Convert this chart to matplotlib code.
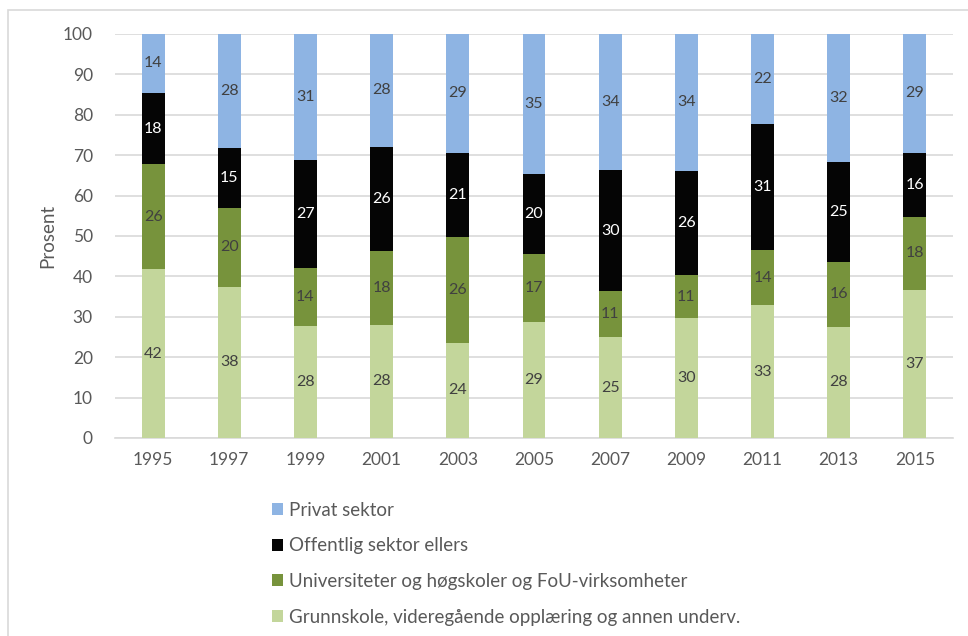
import matplotlib
matplotlib.use("Agg")
import matplotlib.pyplot as plt
from matplotlib.patches import Rectangle, Patch

plt.rcParams['font.family'] = ['Lato', 'DejaVu Sans']

years = ['1995', '1997', '1999', '2001', '2003', '2005', '2007', '2009', '2011', '2013', '2015']
grunnskole = [41.8, 37.5, 27.7, 28.0, 23.6, 28.7, 25.0, 29.6, 32.8, 27.5, 36.7]
universiteter = [25.9, 19.5, 14.4, 18.3, 26.1, 16.9, 11.3, 10.7, 13.7, 16.1, 18.0]
offentlig = [17.8, 14.8, 26.6, 25.8, 20.9, 19.7, 30.0, 25.8, 31.2, 24.6, 15.9]
privat = [14.4, 28.2, 31.3, 27.9, 29.4, 34.7, 33.7, 33.9, 22.3, 31.8, 29.4]

series_names = ['Grunnskole, videregående opplæring og annen underv.',
                'Universiteter og høgskoler og FoU-virksomheter',
                'Offentlig sektor ellers',
                'Privat sektor']
series = [grunnskole, universiteter, offentlig, privat]
colors = ['#C3D69B', '#77933C', '#050505', '#8EB4E3']
label_colors = ['#404040', '#404040', 'white', '#404040']

W, H = 968, 636
fig = plt.figure(figsize=(W / 100, H / 100), dpi=100)
ax = fig.add_axes([115 / W, 1 - 438 / H, (953 - 115) / W, (438 - 34) / H])

x = list(range(len(years)))
bottom = [0.0] * len(years)
for vals, col, lc in zip(series, colors, label_colors):
    ax.bar(x, vals, bottom=bottom, width=0.30, color=col, zorder=3)
    for xi, v, b in zip(x, vals, bottom):
        ax.text(xi, b + v / 2, f'{v:.0f}', ha='center', va='center',
                fontsize=11.5, color=lc, zorder=4)
    bottom = [b + v for b, v in zip(bottom, vals)]

ax.set_xlim(-0.5, len(years) - 0.5)
ax.set_ylim(0, 100)
ax.set_yticks(range(0, 101, 10))
ax.set_xticks(x)
ax.set_xticklabels(years)
ax.tick_params(axis='both', length=0, labelsize=12.5, colors='#595959')
ax.tick_params(axis='y', pad=16)
ax.tick_params(axis='x', pad=10)
ax.grid(axis='y', color='#D9D9D9', linewidth=1.2, zorder=0)
for s in ['top', 'right', 'left']:
    ax.spines[s].set_visible(False)
ax.spines['bottom'].set_color('#D9D9D9')
ax.spines['bottom'].set_linewidth(1.2)
ax.set_ylabel('Prosent', fontsize=13.5, color='#595959')
ax.yaxis.set_label_coords(-0.07, 0.5)

handles = [Patch(facecolor=c, edgecolor='none') for c in reversed(colors)]
labels = list(reversed(series_names))
fig.legend(handles, labels, loc='upper left', bbox_to_anchor=(264 / W, 1 - 494 / H),
           frameon=False, fontsize=13.5, labelcolor='#595959', handlelength=0.6,
           handleheight=0.6, handletextpad=0.35, labelspacing=1.0,
           borderaxespad=0.0)

fig.patches.append(Rectangle((8 / W, -0.05), 1.1, 1 - 10 / H + 0.05,
                             transform=fig.transFigure, fill=False,
                             edgecolor='#D9D9D9', linewidth=1.2))

fig.savefig('out.png', dpi=100)
